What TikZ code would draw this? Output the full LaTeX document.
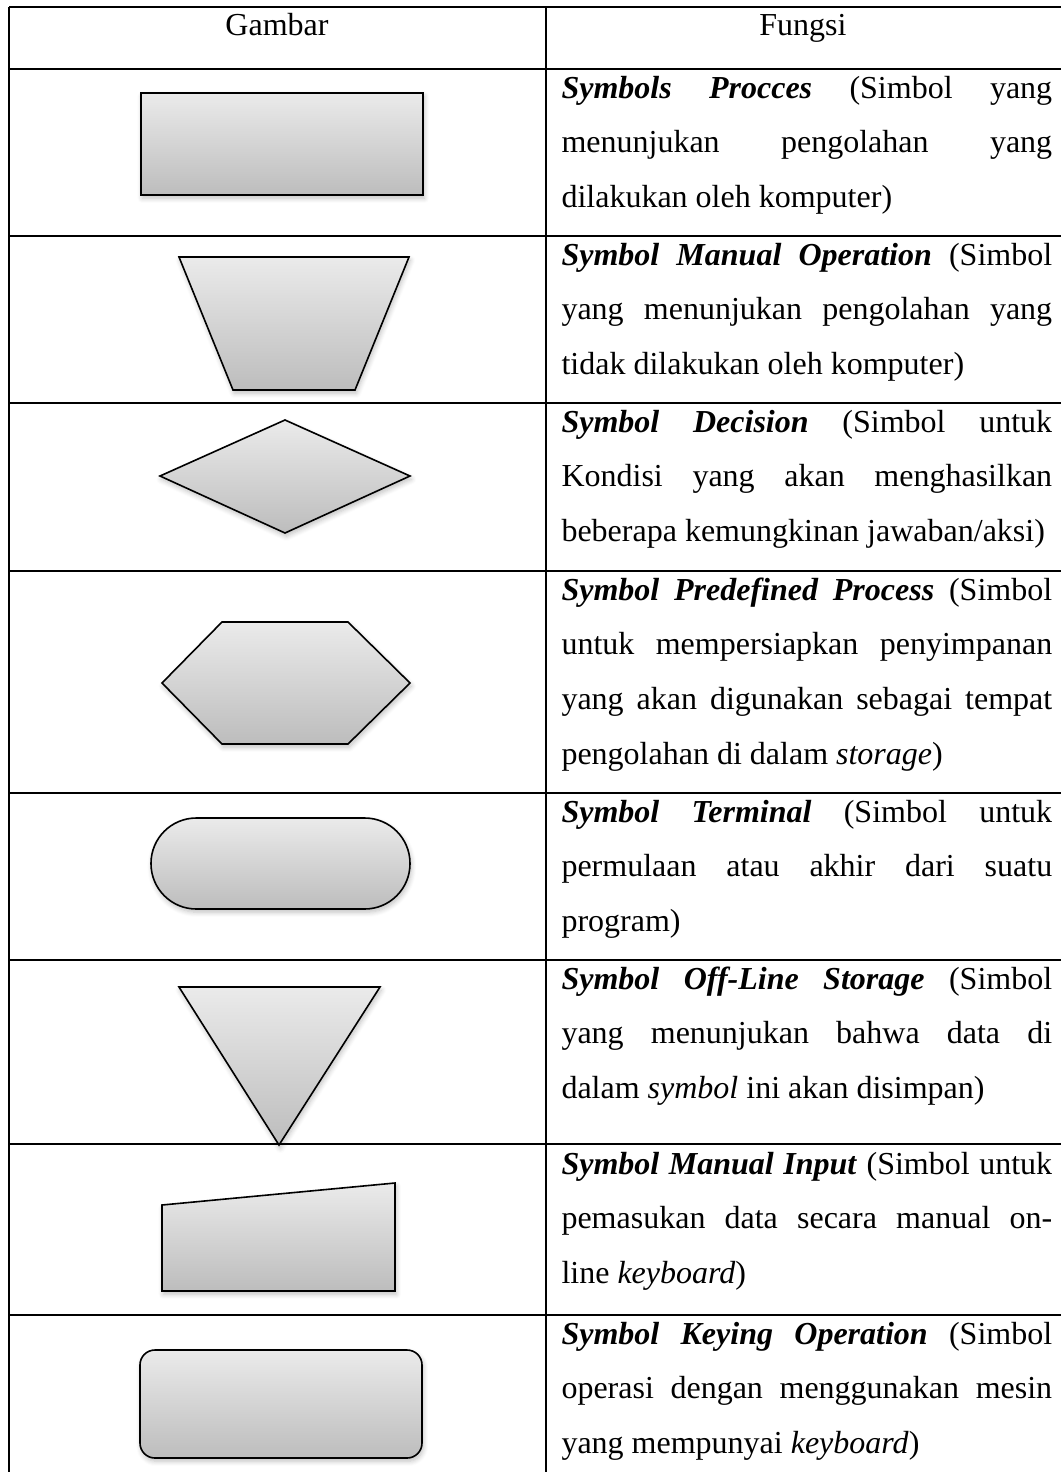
\documentclass[tikz,border=0pt]{standalone}
\usepackage{fontspec}
\setmainfont{Liberation Serif}
\usetikzlibrary{shadows.blur}
\newcommand{\fname}[1]{\textbf{\textit{#1}}}
\tolerance=10000
\hbadness=10000

\begin{document}
\begin{tikzpicture}[x=0.375pt,y=-0.375pt,
 rule/.style={line width=0.8pt},
 sym/.style={draw,line width=0.6pt,top color=black!8,bottom color=black!26,
  blur shadow={shadow xshift=0.5pt,shadow yshift=-1.2pt,shadow opacity=25,shadow blur steps=6}},
 head/.style={font=\fontsize{12}{20.6}\selectfont,inner sep=0pt,anchor=base},
 fn/.style={font=\fontsize{12}{20.6}\selectfont,inner sep=0pt,
  anchor=base west,text width=184pt,align=justify}]
\useasboundingbox (0,0) rectangle (1061,1472);

% table rules
\foreach \yy in {7,69,236,403,571,793,960,1144,1315}
  \draw[rule] (9,\yy) -- (1061,\yy);
\draw[rule] (9,7) -- (9,1472);
\draw[rule] (546,7) -- (546,1472);

% header
\node[head] (gambar) at (277,35) {Gambar};
\node[head] (fungsi) at (803,35) {Fungsi};

% symbols
\draw[sym] (141,93) rectangle (423,195);
\draw[sym] (179,257) -- (409,257) -- (355,390) -- (233,390) -- cycle;
\draw[sym] (160,476) -- (285,420) -- (410,476) -- (285,533) -- cycle;
\draw[sym] (162,683) -- (222,622) -- (348,622) -- (410,683) -- (348,744) -- (222,744) -- cycle;
\draw[sym,rounded corners=17pt] (151,818) rectangle (410,909);
\draw[sym] (179,987) -- (380,987) -- (279,1145) -- cycle;
\draw[sym] (162,1205) -- (395,1183) -- (395,1291) -- (162,1291) -- cycle;
\draw[sym,rounded corners=5.6pt] (140,1350) rectangle (422,1458);

% descriptions
\node[fn] (proc) at (561,98) {\fname{Symbols Procces} (Simbol yang\linebreak
 menunjukan pengolahan yang\linebreak dilakukan oleh komputer)};
\node[fn] (manop) at (561,265) {\fname{Symbol Manual Operation} (Simbol\linebreak
 yang menunjukan pengolahan yang\linebreak tidak dilakukan oleh komputer)};
\node[fn] (decis) at (561,432) {\fname{Symbol Decision} (Simbol untuk\linebreak
 Kondisi yang akan menghasilkan\linebreak beberapa kemungkinan jawaban/aksi)};
\node[fn] (predef) at (561,600) {\fname{Symbol Predefined Process} (Simbol\linebreak
 untuk mempersiapkan penyimpanan\linebreak yang akan digunakan sebagai tempat\linebreak
 pengolahan di dalam \textit{storage})};
\node[fn] (term) at (561,822) {\fname{Symbol Terminal} (Simbol untuk\linebreak
 permulaan atau akhir dari suatu\linebreak program)};
\node[fn] (offline) at (561,989) {\fname{Symbol Off-Line Storage} (Simbol\linebreak
 yang menunjukan bahwa data di\linebreak dalam \textit{symbol} ini akan disimpan)};
\node[fn] (manin) at (561,1174) {\fname{Symbol Manual Input} (Simbol untuk\linebreak
 pemasukan data secara manual on-\linebreak line \textit{keyboard})};
\node[fn] (keying) at (561,1344) {\fname{Symbol Keying Operation} (Simbol\linebreak
 operasi dengan menggunakan mesin\linebreak yang mempunyai \textit{keyboard})};
\end{tikzpicture}
\end{document}
